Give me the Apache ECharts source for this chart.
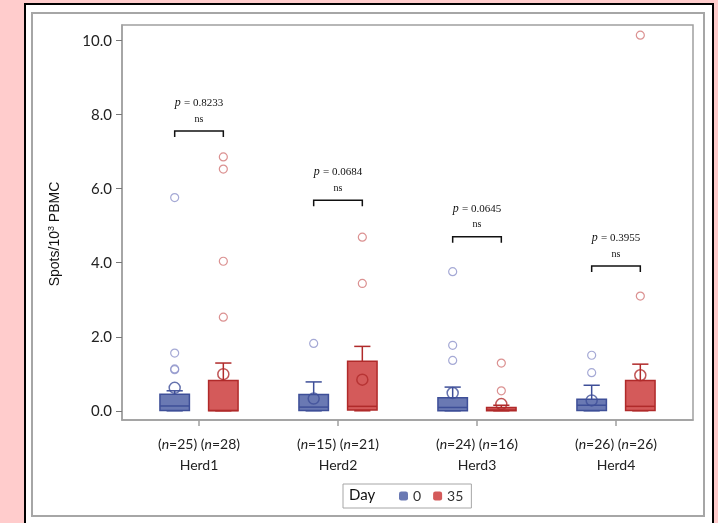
<!DOCTYPE html>
<html>
<head>
<meta charset="utf-8">
<script src="https://cdn.jsdelivr.net/npm/echarts@6/dist/echarts.min.js"></script>
<style>
  html, body { margin: 0; padding: 0; background: #ffcccc; }
  .panel {
    position: absolute; left: 24px; top: 3px; width: 686px; height: 540px;
    background: #fff; border: 2px solid #000;
  }
  .inner {
    position: absolute; left: 31px; top: 12px; width: 670px; height: 501px;
    border: 2px solid #a6a6a6;
  }
  #chart { position: absolute; left: 0; top: 0; width: 718px; height: 523px; }
</style>
</head>
<body>
<div class="panel"></div>
<div class="inner"></div>
<div id="chart"></div>
<script>
// data
var herds = ['Herd1', 'Herd2', 'Herd3', 'Herd4'];
var nDay0 = [25, 15, 24, 26];
var nDay35 = [28, 21, 16, 26];
// [herd, min, q1, median, q3, max]
var day0Box = [
  [0, 0, 0.01, 0.13, 0.45, 0.54],
  [1, 0, 0.01, 0.10, 0.44, 0.78],
  [2, 0, 0.00, 0.09, 0.35, 0.64],
  [3, 0, 0.01, 0.15, 0.31, 0.69]
];
var day35Box = [
  [0, 0, 0.00, 0.01, 0.82, 1.29],
  [1, 0, 0.02, 0.12, 1.34, 1.74],
  [2, 0, 0.00, 0.02, 0.09, 0.15],
  [3, 0, 0.01, 0.12, 0.82, 1.26]
];
var day0Mean = [0.62, 0.33, 0.48, 0.28];
var day35Mean = [0.99, 0.84, 0.18, 0.96];
var day0Out = [[0, 5.76], [0, 1.56], [0, 1.13], [0, 1.11], [1, 1.82], [2, 3.76], [2, 1.77], [2, 1.36], [3, 1.50], [3, 1.03]];
var day35Out = [[0, 6.86], [0, 6.53], [0, 4.04], [0, 2.53], [1, 4.69], [1, 3.44], [2, 1.29], [2, 0.54], [3, 10.15], [3, 3.10]];
var pValues = ['0.8233', '0.0684', '0.0645', '0.3955'];
var bracketY = [7.56, 5.69, 4.70, 3.91];
var yTicks = [0, 2, 4, 6, 8, 10];

var OFF = 0.175;
var blueFill = '#6a79b3', blueLine = '#3e4f98', blueOut = '#8e93cb';
var redFill = '#d45a5a', redLine = '#b02a2a', redOut = '#d27676';

function boxRender(offset, fill, stroke) {
  return function (params, api) {
    var x = api.value(0) + offset;
    var cx = api.coord([x, 0])[0];
    var w = api.size([0.212, 0])[0];
    var cap = w * 0.55;
    var y = function (i) { return api.coord([x, api.value(i)])[1]; };
    var yMin = y(1), yQ1 = y(2), yMed = y(3), yQ3 = y(4), yMax = y(5);
    var ls = { stroke: stroke, lineWidth: 1.5 };
    return {
      type: 'group',
      children: [
        { type: 'line', shape: { x1: cx, y1: yQ3, x2: cx, y2: yMax }, style: ls },
        { type: 'line', shape: { x1: cx - cap / 2, y1: yMax, x2: cx + cap / 2, y2: yMax }, style: ls },
        { type: 'line', shape: { x1: cx, y1: yQ1, x2: cx, y2: yMin }, style: ls },
        { type: 'line', shape: { x1: cx - cap / 2, y1: yMin, x2: cx + cap / 2, y2: yMin }, style: ls },
        { type: 'rect', shape: { x: cx - w / 2, y: yQ3, width: w, height: Math.max(yQ1 - yQ3, 1) },
          style: { fill: fill, stroke: stroke, lineWidth: 1.5 } },
        { type: 'line', shape: { x1: cx - w / 2, y1: yMed, x2: cx + w / 2, y2: yMed }, style: ls }
      ]
    };
  };
}

function shift(arr, offset) {
  return arr.map(function (d) { return [d[0] + offset, d[1]]; });
}

var chart = echarts.init(document.getElementById('chart'));
var option = {
  animation: false,
  grid: { left: 122, right: 25, top: 25, bottom: 103, show: true, borderColor: '#a0a0a0', borderWidth: 1.5 },
  legend: {
    data: ['0', '35'],
    left: 343, top: 484,
    padding: [5, 8, 5, 56],
    itemWidth: 9, itemHeight: 9, itemGap: 12,
    borderColor: '#a6a6a6', borderWidth: 1,
    textStyle: { fontFamily: 'Lato', fontSize: 14, color: '#333' }
  },
  graphic: [
    { type: 'text', x: 349, y: 495, style: { text: 'Day', font: '15px Lato', fill: '#111', verticalAlign: 'middle' } },
    { type: 'text', x: 55, y: 234, rotation: Math.PI / 2,
      style: { text: '{a|Spots/10}{s|3}{a| PBMC}', align: 'center', verticalAlign: 'middle',
        rich: { a: { fontFamily: 'Liberation Sans', fontSize: 14, fill: '#111' },
                s: { fontFamily: 'Liberation Sans', fontSize: 9, fill: '#111', verticalAlign: 'top', padding: [0, 0, 6, 0] } } } }
  ],
  xAxis: {
    type: 'value', min: -0.554, max: 3.554,
    axisLine: { show: true, onZero: false, lineStyle: { color: '#a0a0a0', width: 1.5 } },
    splitLine: { show: false },
    axisTick: { show: true, length: 6, customValues: [0, 1, 2, 3], lineStyle: { color: '#a0a0a0', width: 1.5 } },
    axisLabel: {
      customValues: [0, 1, 2, 3], margin: 14,
      formatter: function (v) {
        var i = Math.round(v);
        return '{t|(}{i|n}{t|=' + nDay0[i] + ') (}{i|n}{t|=' + nDay35[i] + ')}\n{h|' + herds[i] + '}';
      },
      rich: {
        t: { fontFamily: 'Lato', fontSize: 14, color: '#222', lineHeight: 20 },
        i: { fontFamily: 'Lato', fontSize: 14, fontStyle: 'italic', color: '#222', lineHeight: 20 },
        h: { fontFamily: 'Lato', fontSize: 14, color: '#222', lineHeight: 22 }
      }
    }
  },
  yAxis: {
    type: 'value', min: -0.249, max: 10.424,
    axisLine: { show: true, onZero: false, lineStyle: { color: '#a0a0a0', width: 1.5 } },
    splitLine: { show: false },
    axisTick: { show: true, length: 6, customValues: yTicks, lineStyle: { color: '#777', width: 1 } },
    axisLabel: {
      customValues: yTicks, margin: 10,
      formatter: function (v) { return v.toFixed(1); },
      fontFamily: 'Lato', fontSize: 15, color: '#222'
    }
  },
  series: [
    { name: '0', type: 'custom', renderItem: boxRender(-OFF, blueFill, blueLine), itemStyle: { color: blueFill },
      encode: { x: 0, y: [1, 2, 3, 4, 5] }, data: day0Box, z: 2 },
    { name: '35', type: 'custom', renderItem: boxRender(OFF, redFill, redLine), itemStyle: { color: redFill },
      encode: { x: 0, y: [1, 2, 3, 4, 5] }, data: day35Box, z: 2 },
    { type: 'scatter', symbol: 'circle', symbolSize: 8, z: 3,
      itemStyle: { color: 'rgba(0,0,0,0)', borderColor: blueOut, borderWidth: 1.2 }, data: shift(day0Out, -OFF) },
    { type: 'scatter', symbol: 'circle', symbolSize: 8, z: 3,
      itemStyle: { color: 'rgba(0,0,0,0)', borderColor: redOut, borderWidth: 1.2 }, data: shift(day35Out, OFF) },
    { type: 'scatter', symbol: 'circle', symbolSize: 11, z: 4,
      itemStyle: { color: 'rgba(0,0,0,0)', borderColor: blueLine, borderWidth: 1.5 },
      data: day0Mean.map(function (m, i) { return [i - OFF, m]; }) },
    { type: 'scatter', symbol: 'circle', symbolSize: 11, z: 4,
      itemStyle: { color: 'rgba(0,0,0,0)', borderColor: redLine, borderWidth: 1.5 },
      data: day35Mean.map(function (m, i) { return [i + OFF, m]; }) },
    { type: 'custom', z: 5,
      data: bracketY.map(function (b, i) { return [i, b]; }),
      renderItem: function (params, api) {
        var i = api.value(0);
        var p1 = api.coord([i - OFF, api.value(1)]);
        var p2 = api.coord([i + OFF, api.value(1)]);
        var drop = 6;
        var ls = { stroke: '#111', lineWidth: 1.5, fill: null };
        var mid = (p1[0] + p2[0]) / 2;
        return {
          type: 'group',
          children: [
            { type: 'polyline', shape: { points: [[p1[0], p1[1] + drop], [p1[0], p1[1]], [p2[0], p2[1]], [p2[0], p2[1] + drop]] }, style: ls },
            { type: 'text', x: mid, y: p1[1] - 12,
              style: { text: 'ns', font: '10px "Liberation Serif"', fill: '#111', align: 'center', verticalAlign: 'middle' } },
            { type: 'text', x: mid, y: p1[1] - 28,
              style: { text: '{p|p} {t|= ' + pValues[params.dataIndex] + '}', align: 'center', verticalAlign: 'middle',
                rich: { p: { fontFamily: 'Liberation Serif', fontStyle: 'italic', fontSize: 12, fill: '#111' },
                        t: { fontFamily: 'Liberation Serif', fontSize: 11, fill: '#111' } } } }
          ]
        };
      }
    }
  ]
};
chart.setOption(option);
</script>
</body>
</html>
